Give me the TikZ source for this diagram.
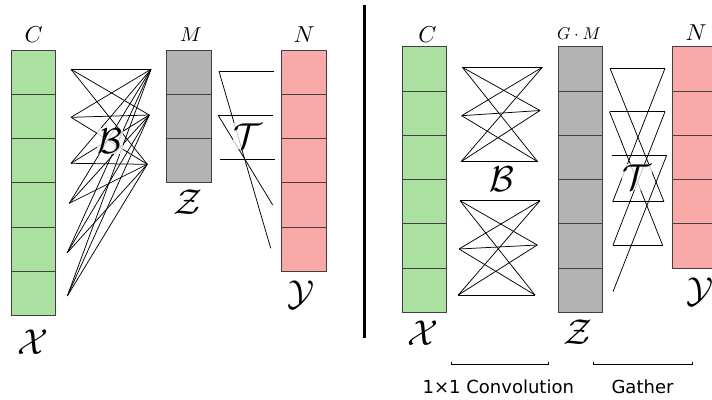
\documentclass[tikz,border=0pt]{standalone}
\usepackage{graphicx}
\usepackage{fontspec}
\newfontfamily\dejavu{DejaVu Sans}
\newcommand\mylbl[2]{\scalebox{#1}{$#2$}}
\definecolor{cgreen}{RGB}{171,224,160}
\definecolor{cgray}{RGB}{179,179,179}
\definecolor{cpink}{RGB}{249,169,168}
\begin{document}
\begin{tikzpicture}[x=1pt,y=-1pt,
  cell/.style={draw=black!75, line width=0.9pt, minimum width=44.4pt, minimum height=44.3pt, inner sep=0pt, outer sep=0pt, anchor=north west},
  conn/.style={draw=black, line width=0.75pt},
  plainlab/.style={inner sep=0pt},
  halo/.style={fill=white, fill opacity=0.75, text opacity=1, inner sep=1pt},
  caption/.style={inner sep=0pt, font=\dejavu\fontsize{18}{20}\selectfont},
  bracket/.style={draw=black, line width=0.8pt}]
\useasboundingbox (0,0) rectangle (712,399);

% ---------------- left panel cells ----------------
\foreach \i in {1,...,6} \node[cell, fill=cgreen] (lx\i) at (11,{50+(\i-1)*44.3}) {};
\foreach \i in {1,...,3} \node[cell, fill=cgray] (lz\i) at (166.7,{50+(\i-1)*44.3}) {};
\foreach \i in {1,...,5} \node[cell, fill=cpink] (ly\i) at (281.7,{50+(\i-1)*44.3}) {};

% left B connector end points
\coordinate (bl1) at (71,69.3);
\coordinate (bl2) at (71,117.3);
\coordinate (bl3) at (71,163.3);
\coordinate (bl4) at (69.3,203.3);
\coordinate (bl5) at (67.3,252.7);
\coordinate (bl6) at (67.3,296);
\coordinate (br1) at (151,69.3);
\coordinate (br2) at (149.3,115);
\coordinate (br3) at (147.3,164.3);
\foreach \i in {1,...,6} \foreach \j in {1,...,3} \draw[conn] (bl\i) -- (br\j);

% left T connector end points
\coordinate (tl1) at (219,71.3);
\coordinate (tl2) at (218,115);
\coordinate (tl3) at (220,159);
\coordinate (tr1) at (274,71.3);
\coordinate (tr2) at (273,115);
\coordinate (tr3) at (275,159);
\coordinate (tr4) at (272.7,205);
\coordinate (tr5) at (270.7,248.3);
\draw[conn] (tl1) -- (tr1);
\draw[conn] (tl2) -- (tr2);
\draw[conn] (tl3) -- (tr3);
\draw[conn] (tl1) -- (tr5);
\draw[conn] (tl2) -- (tr4);

% left labels
\node[plainlab] (lC) at (33.7,35) {\mylbl{2.3}{C}};
\node[plainlab] (lM) at (190.8,35) {\mylbl{2.0}{M}};
\node[plainlab] (lN) at (304,35) {\mylbl{2.3}{N}};
\node[plainlab] (lX) at (32.5,342) {\mylbl{3.6}{\mathcal{X}}};
\node[plainlab] (lZ) at (188,202) {\mylbl{3.6}{\mathcal{Z}}};
\node[plainlab] (lY) at (301,295) {\mylbl{3.6}{\mathcal{Y}}};
\node[halo] (lB) at (110,141) {\mylbl{3.6}{\mathcal{B}}};
\node[halo] (lT) at (248,136) {\mylbl{3.6}{\mathcal{T}}};

% ---------------- separator ----------------
\coordinate (sepT) at (364.7,5);
\coordinate (sepB) at (364.7,338);
\draw[line width=2.5pt] (sepT) -- (sepB);

% ---------------- right panel cells ----------------
\foreach \i in {1,...,6} \node[cell, fill=cgreen] (rx\i) at (402.3,{46.7+(\i-1)*44.3}) {};
\foreach \i in {1,...,6} \node[cell, fill=cgray] (rz\i) at (558.3,{46.7+(\i-1)*44.3}) {};
\foreach \i in {1,...,5} \node[cell, fill=cpink] (ry\i) at (672.7,{46.7+(\i-1)*44.3}) {};

% right B, group 1
\coordinate (ua1) at (462.3,67.3);
\coordinate (ua2) at (461.7,115.7);
\coordinate (ua3) at (461,161.7);
\coordinate (ub1) at (542.3,67.3);
\coordinate (ub2) at (540,110.5);
\coordinate (ub3) at (537.7,161.7);
\foreach \i in {1,...,3} \foreach \j in {1,...,3} \draw[conn] (ua\i) -- (ub\j);
% right B, group 2
\coordinate (va1) at (460,200.7);
\coordinate (va2) at (459,249);
\coordinate (va3) at (458.3,295);
\coordinate (vb1) at (540,200.7);
\coordinate (vb2) at (537.3,245);
\coordinate (vb3) at (535,295);
\foreach \i in {1,...,3} \foreach \j in {1,...,3} \draw[conn] (va\i) -- (vb\j);

% right T
\coordinate (zp1) at (610,68.3);
\coordinate (zp2) at (609.5,111.7);
\coordinate (zp3) at (611.5,155.7);
\coordinate (zp4) at (612.7,201.7);
\coordinate (zp5) at (613,245);
\coordinate (zp6) at (613,291.7);
\coordinate (yp1) at (665,68.3);
\coordinate (yp2) at (665,111.7);
\coordinate (yp3) at (666.5,155.7);
\coordinate (yp4) at (664,201.7);
\coordinate (yp5) at (662.5,245);
\foreach \i in {1,...,5} \draw[conn] (zp\i) -- (yp\i);
\draw[conn] (zp1) -- (yp4);
\draw[conn] (zp4) -- (yp1);
\draw[conn] (zp2) -- (yp5);
\draw[conn] (zp5) -- (yp2);
\draw[conn] (zp6) -- (yp3);

% right labels
\node[plainlab] (rC) at (427.3,35) {\mylbl{2.3}{C}};
\node[plainlab] (rGM) at (579,33.5) {\mylbl{1.7}{G\cdot M}};
\node[plainlab] (rN) at (696,33) {\mylbl{2.3}{N}};
\node[plainlab] (rX) at (423.3,333) {\mylbl{3.6}{\mathcal{X}}};
\node[plainlab] (rZ) at (577.5,332.5) {\mylbl{3.6}{\mathcal{Z}}};
\node[plainlab] (rY) at (700,292) {\mylbl{3.6}{\mathcal{Y}}};
\node[halo] (rB) at (501.5,179) {\mylbl{3.6}{\mathcal{B}}};
\node[halo] (rT) at (637,177) {\mylbl{3.6}{\mathcal{T}}};

% brackets and captions
\coordinate (k1a) at (451.7,364.3);
\coordinate (k1b) at (548.3,364.3);
\coordinate (k2a) at (593.3,364.3);
\coordinate (k2b) at (692.3,364.3);
\draw[bracket] ([yshift=2pt]k1a) -- (k1a) -- (k1b) -- ([yshift=2pt]k1b);
\draw[bracket] ([yshift=2pt]k2a) -- (k2a) -- (k2b) -- ([yshift=2pt]k2b);
\node[caption] (cap1) at (498.3,386.7) {1×1 Convolution};
\node[caption] (cap2) at (642.5,386.7) {Gather};
\end{tikzpicture}
\end{document}
